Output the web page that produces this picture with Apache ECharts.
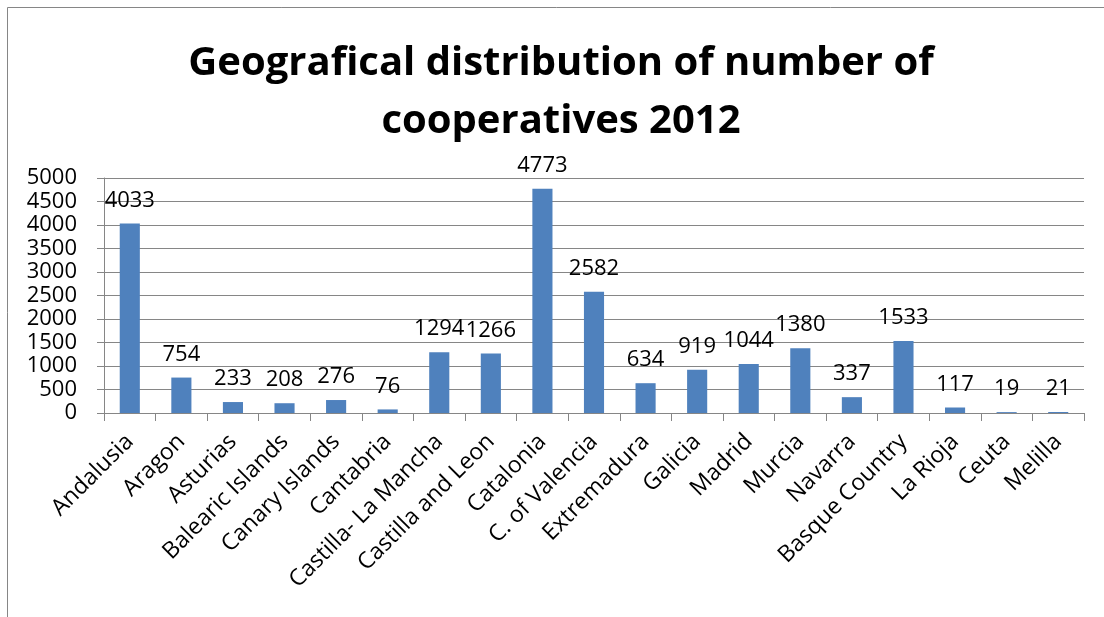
<!DOCTYPE html>
<html><head><meta charset="utf-8">
<script src="https://cdn.jsdelivr.net/npm/echarts@6/dist/echarts.min.js"></script>
<style>html,body{margin:0;padding:0;background:#fff}#c{width:1104px;height:617px}</style>
</head><body><div id="c"></div>
<script>
const titleText = 'Geografical distribution of number of\ncooperatives 2012';
const categories = ['Andalusia','Aragon','Asturias','Balearic Islands','Canary Islands','Cantabria','Castilla- La Mancha','Castilla and Leon','Catalonia','C. of Valencia','Extremadura','Galicia','Madrid','Murcia','Navarra','Basque Country','La Rioja','Ceuta','Melilla'];
const cooperatives = [4033,754,233,208,276,76,1294,1266,4773,2582,634,919,1044,1380,337,1533,117,19,21];
const yMin = 0, yMax = 5000, yStep = 500;

const FONT = 'Open Sans';
const chart = echarts.init(document.getElementById('c'), null, {renderer:'canvas'});
chart.setOption({
  animation:false,
  backgroundColor:'#fff',
  graphic:[{type:'rect',shape:{x:7.5,y:7.5,width:1200,height:700},style:{fill:'none',stroke:'#868686',lineWidth:1},silent:true,z:-1}],
  title:{text:titleText,left:556,top:30,textAlign:'center',
    textStyle:{fontFamily:FONT,fontWeight:'bold',fontSize:40,lineHeight:58,color:'#000'}},
  grid:{left:104,right:20,top:178,bottom:204,containLabel:false},
  xAxis:{type:'category',data:categories,
    axisLine:{lineStyle:{color:'#868686',width:1}},
    axisTick:{show:true,alignWithLabel:false,length:8,lineStyle:{color:'#868686'}},
    axisLabel:{rotate:45,interval:0,fontFamily:FONT,fontSize:23,color:'#000',margin:25}},
  yAxis:{type:'value',min:yMin,max:yMax,interval:yStep,
    axisLine:{show:true,lineStyle:{color:'#868686',width:1}},
    axisTick:{show:true,length:7,lineStyle:{color:'#868686'}},
    splitLine:{show:true,lineStyle:{color:'#868686',width:1}},
    axisLabel:{fontFamily:FONT,fontSize:22,color:'#000',margin:27,formatter:v=>String(v)}},
  series:[{type:'bar',data:cooperatives,barWidth:'39%',
    itemStyle:{color:'#4F81BD'},
    label:{show:true,position:'top',distance:12,fontFamily:FONT,fontSize:22,color:'#000'}}]
});
</script></body></html>
